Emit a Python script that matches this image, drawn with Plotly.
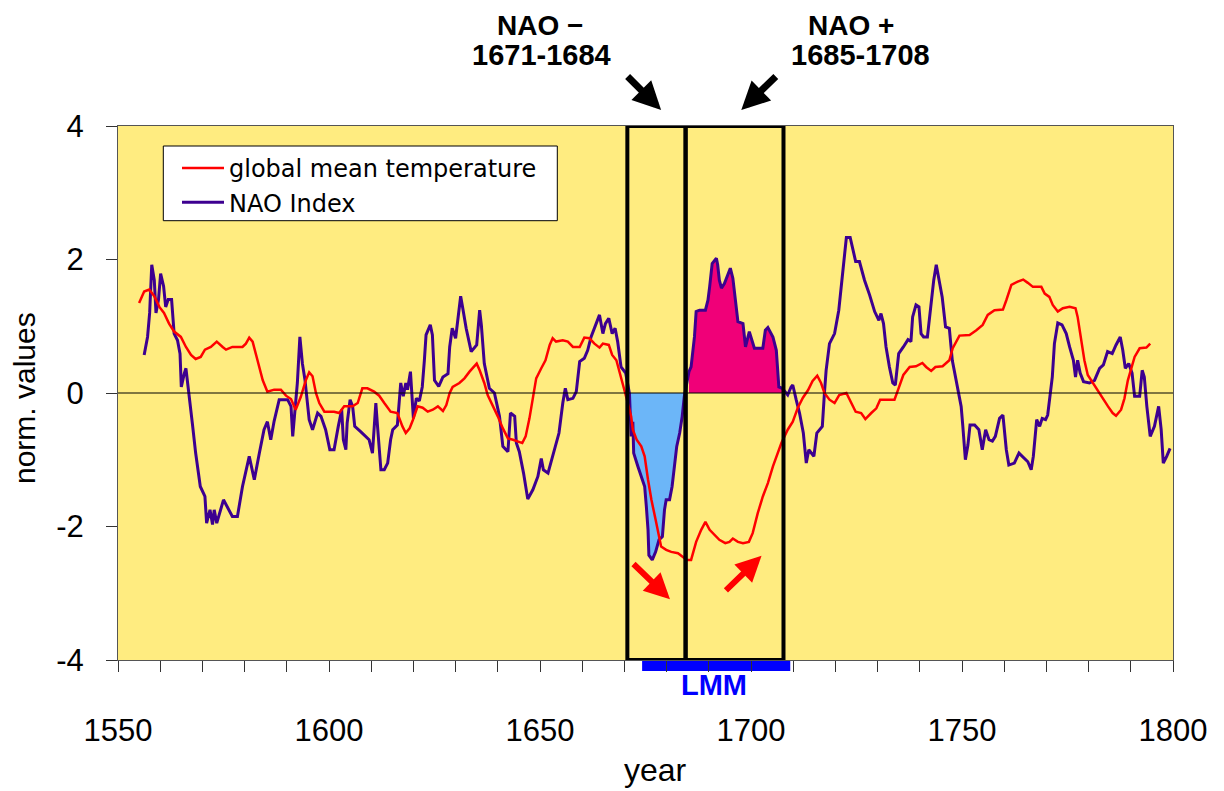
import plotly.graph_objects as go

# ---------------- data ----------------
nao_years = [1556.2, 1557.0, 1557.5, 1558.0, 1558.6, 1559.0, 1559.6, 1560.1, 1560.8, 1561.3, 1561.9, 1562.7,
             1563.3, 1564.1, 1564.7, 1565.0, 1565.7, 1566.1, 1566.5, 1566.9, 1567.7, 1568.4, 1569.5, 1570.6,
             1571.0, 1571.8, 1572.4, 1572.8, 1573.4, 1575.0, 1577.1, 1578.3, 1579.5, 1581.1, 1582.3, 1583.5,
             1584.6, 1585.4, 1586.2, 1587.0, 1588.2, 1590.2, 1591.0, 1591.4, 1592.0, 1592.5, 1593.1, 1593.7,
             1594.3, 1595.3, 1596.1, 1597.3, 1598.1, 1599.2, 1600.2, 1601.2, 1602.2, 1603.0, 1603.4, 1604.0,
             1604.3, 1605.0, 1605.6, 1606.1, 1607.5, 1608.7, 1609.5, 1610.3, 1610.7, 1611.1, 1611.5, 1612.3,
             1613.1, 1613.9, 1614.6, 1615.1, 1616.2, 1616.6, 1617.0, 1617.6, 1618.2, 1618.6, 1619.3, 1620.0,
             1620.7, 1621.4, 1622.1, 1622.6, 1623.0, 1624.0, 1624.5, 1625.0, 1626.0, 1627.0, 1628.2, 1628.6,
             1629.2, 1630.0, 1630.5, 1631.2, 1631.7, 1632.5, 1633.7, 1635.0, 1635.7, 1636.1, 1636.8, 1638.0,
             1639.2, 1640.4, 1641.2, 1642.4, 1643.0, 1644.0, 1644.4, 1645.1, 1646.1, 1647.1, 1648.3, 1649.5,
             1650.3, 1650.8, 1651.9, 1653.0, 1654.5, 1655.4, 1656.0, 1656.6, 1657.8, 1658.6, 1659.4, 1660.5,
             1661.3, 1662.1, 1663.3, 1664.1, 1664.9, 1665.5, 1666.3, 1667.1, 1667.8, 1668.4, 1669.2, 1670.3,
             1671.2, 1671.6, 1672.0, 1672.2, 1673.2, 1674.0, 1674.8, 1675.2, 1675.6, 1675.8, 1676.6, 1677.4,
             1678.2, 1679.0, 1679.5, 1679.9, 1680.7, 1681.3, 1681.9, 1682.4, 1683.1, 1683.7, 1684.2, 1685.3,
             1685.8, 1686.6, 1687.0, 1687.8, 1689.2, 1689.8, 1690.2, 1690.8, 1691.8, 1692.1, 1692.5, 1693.0,
             1693.7, 1694.5, 1695.1, 1695.7, 1696.3, 1696.9, 1698.1, 1698.7, 1699.6, 1700.3, 1700.8, 1702.8,
             1703.4, 1704.0, 1705.2, 1706.0, 1706.6, 1707.4, 1708.7, 1709.5, 1709.9, 1710.7, 1711.5, 1712.4,
             1713.1, 1713.7, 1714.3, 1714.9, 1715.6, 1716.2, 1716.9, 1717.4, 1717.8, 1718.6, 1719.8, 1720.8,
             1721.6, 1722.2, 1722.6, 1723.5, 1724.1, 1724.8, 1725.7, 1726.9, 1728.1, 1729.3, 1730.3, 1730.8,
             1731.4, 1732.0, 1732.8, 1733.6, 1734.2, 1735.0, 1736.1, 1737.2, 1737.9, 1738.3, 1739.1, 1739.8,
             1740.3, 1740.9, 1741.8, 1742.7, 1743.3, 1743.9, 1744.5, 1745.3, 1746.1, 1747.0, 1747.7, 1748.5,
             1749.2, 1749.8, 1750.2, 1750.8, 1751.4, 1751.9, 1753.0, 1754.0, 1754.8, 1755.6, 1756.4, 1757.2,
             1757.9, 1758.9, 1759.7, 1760.5, 1761.1, 1762.4, 1763.5, 1764.4, 1765.6, 1766.4, 1766.9, 1767.7,
             1768.4, 1769.0, 1769.8, 1770.3, 1770.9, 1771.4, 1771.9, 1772.7, 1773.7, 1774.7, 1775.5, 1776.4,
             1776.9, 1777.4, 1778.0, 1778.8, 1780.2, 1781.4, 1782.6, 1783.5, 1784.5, 1785.6, 1786.5, 1787.5,
             1788.1, 1788.7, 1789.5, 1790.3, 1790.9, 1792.1, 1792.7, 1793.2, 1793.8, 1794.6, 1795.6, 1796.6,
             1797.2, 1797.7, 1798.5, 1799.3]
nao_values = [0.57, 0.84, 1.20, 1.92, 1.69, 1.20, 1.40, 1.79, 1.60, 1.29, 1.40, 1.40,
              0.89, 0.79, 0.59, 0.09, 0.29, 0.37, 0.15, -0.10, -0.50, -0.90, -1.40, -1.55,
              -1.95, -1.75, -1.97, -1.75, -1.95, -1.60, -1.85, -1.85, -1.40, -0.95, -1.30, -0.90,
              -0.55, -0.43, -0.70, -0.42, -0.10, -0.10, -0.20, -0.65, -0.20, 0.15, 0.84, 0.44,
              0.20, -0.40, -0.55, -0.30, -0.35, -0.55, -0.85, -0.85, -0.50, -0.25, -0.70, -0.85,
              -0.45, -0.10, -0.20, -0.50, -0.58, -0.65, -0.70, -0.90, -0.50, -0.15, -0.50, -1.15,
              -1.15, -1.05, -0.70, -0.55, -0.48, -0.20, 0.15, -0.05, 0.15, 0.05, 0.32, -0.38,
              -0.08, -0.12, 0.09, 0.49, 0.87, 1.02, 0.87, 0.19, 0.10, 0.24, 0.29, 0.69,
              0.97, 0.82, 1.12, 1.45, 1.27, 0.97, 0.62, 0.72, 1.24, 1.02, 0.44, 0.07,
              0.00, -0.35, -0.80, -0.88, -0.30, -0.35, -0.75, -0.88, -1.20, -1.59, -1.45, -1.25,
              -0.98, -1.15, -1.20, -0.95, -0.60, -0.15, 0.07, -0.10, -0.08, 0.02, 0.47, 0.52,
              0.64, 0.84, 1.04, 1.17, 0.89, 1.04, 1.12, 0.89, 0.97, 0.77, 0.39, 0.30,
              -0.01, -0.65, -0.43, -0.90, -1.10, -1.25, -1.40, -1.70, -2.05, -2.43, -2.50, -2.38,
              -2.20, -2.15, -1.75, -1.60, -1.60, -1.40, -1.10, -0.80, -0.60, -0.35, -0.05, 0.32,
              0.39, 0.84, 1.22, 1.24, 1.24, 1.39, 1.59, 1.94, 2.02, 1.92, 1.69, 1.57,
              1.64, 1.79, 1.87, 1.72, 1.39, 1.07, 1.04, 0.69, 0.92, 0.79, 0.67, 0.67,
              0.94, 0.98, 0.84, 0.64, 0.09, 0.07, -0.03, 0.09, 0.12, -0.10, -0.30, -0.60,
              -1.05, -0.85, -0.90, -0.95, -0.60, -0.55, -0.50, 0.00, 0.34, 0.74, 0.89, 1.24,
              1.69, 2.04, 2.33, 2.33, 2.14, 1.97, 1.97, 1.69, 1.47, 1.22, 1.09, 1.19,
              1.04, 0.69, 0.39, 0.15, 0.12, 0.59, 0.69, 0.80, 0.77, 1.14, 1.32, 1.29,
              0.89, 0.84, 0.84, 1.34, 1.69, 1.92, 1.72, 1.44, 0.99, 0.97, 0.49, 0.24,
              0.04, -0.20, -0.50, -1.00, -0.78, -0.48, -0.48, -0.55, -0.85, -0.55, -0.70, -0.72,
              -0.65, -0.38, -0.33, -0.85, -1.08, -1.05, -0.90, -0.95, -1.03, -1.15, -0.95, -0.40,
              -0.50, -0.38, -0.40, -0.33, -0.05, 0.24, 0.74, 1.05, 1.02, 0.89, 0.69, 0.49,
              0.24, 0.49, 0.30, 0.17, 0.15, 0.19, 0.37, 0.42, 0.62, 0.59, 0.72, 0.84,
              0.64, 0.37, 0.44, 0.30, -0.05, -0.05, 0.34, 0.24, -0.20, -0.65, -0.50, -0.20,
              -0.55, -1.05, -0.95, -0.83]

temp_years = [1555.0, 1556.2, 1557.4, 1558.6, 1559.8, 1560.9, 1562.1, 1563.3, 1564.9, 1566.1, 1567.3, 1568.4,
              1569.6, 1570.6, 1572.0, 1573.4, 1574.8, 1575.6, 1577.1, 1579.5, 1580.3, 1581.1, 1581.9, 1582.7,
              1583.5, 1584.3, 1585.4, 1587.0, 1588.6, 1589.8, 1591.0, 1592.1, 1593.3, 1594.5, 1595.3, 1596.1,
              1596.9, 1597.7, 1598.9, 1601.2, 1602.4, 1603.6, 1605.6, 1606.8, 1607.9, 1609.1, 1610.7, 1611.9,
              1613.1, 1614.6, 1616.2, 1617.4, 1618.2, 1619.1, 1619.9, 1621.0, 1622.2, 1623.4, 1624.6, 1625.8,
              1627.0, 1627.8, 1628.6, 1629.3, 1630.9, 1632.1, 1633.3, 1634.2, 1635.0, 1635.7, 1636.8, 1637.6,
              1638.8, 1640.0, 1641.2, 1642.4, 1643.6, 1644.7, 1645.8, 1646.6, 1647.5, 1648.3, 1649.1, 1650.3,
              1651.3, 1652.3, 1653.0, 1653.8, 1655.4, 1656.6, 1657.8, 1659.4, 1660.5, 1661.7, 1662.9, 1664.1,
              1664.9, 1666.3, 1667.1, 1668.1, 1668.8, 1669.8, 1670.8, 1671.6, 1672.0, 1672.9, 1674.0, 1674.8,
              1675.6, 1676.4, 1677.4, 1678.3, 1678.7, 1679.9, 1681.1, 1682.7, 1683.8, 1684.8, 1685.8, 1687.0,
              1688.2, 1689.2, 1690.2, 1691.4, 1692.5, 1693.9, 1694.9, 1695.7, 1696.9, 1698.1, 1699.5, 1700.4,
              1701.6, 1702.8, 1704.0, 1705.2, 1706.4, 1707.2, 1708.7, 1709.9, 1711.1, 1712.3, 1713.5, 1714.6,
              1715.7, 1716.6, 1717.4, 1718.6, 1719.8, 1720.9, 1722.6, 1723.7, 1724.8, 1726.1, 1727.1, 1728.5,
              1729.7, 1730.6, 1732.0, 1734.0, 1734.8, 1736.1, 1737.6, 1739.1, 1740.6, 1741.5, 1742.7, 1743.7,
              1745.4, 1747.0, 1747.8, 1749.4, 1751.8, 1753.4, 1754.9, 1756.1, 1757.7, 1759.7, 1760.5, 1761.7,
              1763.2, 1764.5, 1765.6, 1766.8, 1768.8, 1769.6, 1770.7, 1771.5, 1772.7, 1773.9, 1775.5, 1776.9,
              1777.4, 1778.2, 1779.0, 1779.8, 1781.0, 1782.2, 1783.4, 1784.6, 1785.7, 1786.5, 1787.7, 1788.5,
              1789.3, 1790.1, 1790.9, 1792.1, 1793.7, 1794.6]
temp_values = [1.35, 1.52, 1.55, 1.45, 1.29, 1.20, 1.04, 0.92, 0.84, 0.69, 0.57, 0.51,
               0.54, 0.65, 0.69, 0.77, 0.69, 0.65, 0.69, 0.69, 0.74, 0.83, 0.77, 0.59,
               0.39, 0.19, 0.02, 0.05, 0.05, -0.04, -0.09, -0.25, -0.06, 0.19, 0.31, 0.25,
               0.00, -0.15, -0.28, -0.28, -0.30, -0.20, -0.20, -0.15, 0.07, 0.07, 0.02, -0.04,
               -0.15, -0.28, -0.30, -0.50, -0.60, -0.53, -0.40, -0.20, -0.22, -0.28, -0.25, -0.20,
               -0.27, -0.18, 0.00, 0.09, 0.15, 0.22, 0.32, 0.39, 0.44, 0.34, 0.15, -0.03,
               -0.18, -0.35, -0.53, -0.68, -0.70, -0.73, -0.75, -0.65, -0.38, -0.08, 0.22, 0.37,
               0.49, 0.72, 0.82, 0.77, 0.79, 0.77, 0.69, 0.69, 0.83, 0.82, 0.74, 0.68,
               0.74, 0.72, 0.57, 0.49, 0.34, 0.09, -0.15, -0.35, -0.55, -0.70, -0.80, -0.95,
               -1.30, -1.60, -1.90, -2.15, -2.30, -2.35, -2.38, -2.40, -2.45, -2.50, -2.50, -2.23,
               -2.05, -1.93, -2.05, -2.13, -2.20, -2.25, -2.23, -2.18, -2.23, -2.25, -2.23, -2.10,
               -1.80, -1.55, -1.35, -1.10, -0.90, -0.75, -0.55, -0.43, -0.22, -0.07, 0.04, 0.18,
               0.26, 0.15, 0.00, -0.10, -0.15, -0.03, 0.00, -0.13, -0.28, -0.30, -0.39, -0.30,
               -0.23, -0.10, -0.10, -0.10, 0.04, 0.27, 0.39, 0.40, 0.45, 0.39, 0.33, 0.39,
               0.40, 0.49, 0.67, 0.86, 0.87, 0.94, 1.02, 1.17, 1.24, 1.25, 1.39, 1.62,
               1.67, 1.70, 1.65, 1.59, 1.59, 1.49, 1.44, 1.32, 1.22, 1.27, 1.29, 1.27,
               1.14, 0.82, 0.49, 0.27, 0.15, 0.02, -0.09, -0.20, -0.30, -0.34, -0.25, -0.08,
               0.19, 0.37, 0.54, 0.67, 0.68, 0.74]

nao_minus_period = (1670.7, 1684.5)   # box "NAO −  1671-1684"
nao_plus_period = (1684.5, 1707.7)    # box "NAO +  1685-1708"
lmm_period = (1674.2, 1709.3)         # Late Maunder Minimum bar

x_tick_labels = ["1550", "1600", "1650", "1700", "1750", "1800"]
y_tick_labels = ["-4", "-2", "0", "2", "4"]

# ---------------- styles ----------------
FONT = "Liberation Sans, Arial, sans-serif"
LEGEND_FONT = "DejaVu Sans, Liberation Sans, sans-serif"
BG = "#FFEC80"
RED = "#FF0000"
PURPLE = "#3D0090"
BLUE_FILL = "#6CB6F8"
PINK_FILL = "#F00078"

# The page body has an 8px margin, so the figure is drawn 8px right/down in the window.
OFF = 8
W, H = 1224, 791
PW, PH = 1055, 534
ML, MT = 118 - OFF, 126 - OFF


def px_x(p):   # window pixel -> paper x
    return (p - OFF - ML) / PW


def px_y(p):   # window pixel -> paper y
    return 1 - (p - OFF - MT) / PH


fig = go.Figure()


def segment(lo, hi):
    xs, ys = [], []
    for x, y in zip(nao_years, nao_values):
        if lo <= x <= hi:
            xs.append(x)
            ys.append(y)
    return xs, ys


bx, by = segment(*nao_minus_period)
px_, py_ = segment(*nao_plus_period)

fig.add_trace(go.Scatter(x=bx, y=by, mode="lines", fill="tozeroy", fillcolor=BLUE_FILL,
                         line=dict(width=0, color=BLUE_FILL), showlegend=False, hoverinfo="skip"))
fig.add_trace(go.Scatter(x=px_, y=py_, mode="lines", fill="tozeroy", fillcolor=PINK_FILL,
                         line=dict(width=0, color=PINK_FILL), showlegend=False, hoverinfo="skip"))

fig.add_trace(go.Scatter(x=nao_years, y=nao_values, mode="lines", name="NAO Index",
                         line=dict(color=PURPLE, width=3), legendrank=2))
fig.add_trace(go.Scatter(x=temp_years, y=temp_values, mode="lines", name="global mean temperature",
                         line=dict(color=RED, width=2.5), legendrank=1))

shapes = []
# zero line
shapes.append(dict(type="line", xref="paper", yref="y", x0=0, x1=1, y0=0, y1=0,
                   line=dict(color="black", width=1), layer="above"))
# period boxes
for lo, hi in (nao_minus_period, nao_plus_period):
    shapes.append(dict(type="rect", xref="x", yref="y", x0=lo, x1=hi, y0=-4, y1=4,
                       line=dict(color="black", width=4), fillcolor="rgba(0,0,0,0)", layer="above"))
# LMM bar below the axis
shapes.append(dict(type="rect", xref="x", yref="paper", x0=lmm_period[0], x1=lmm_period[1],
                   y0=-11 / PH, y1=0, line=dict(width=0), fillcolor="#0000FF", layer="below"))
# legend frame
shapes.append(dict(type="rect", xref="paper", yref="paper",
                   x0=px_x(163.3), x1=px_x(557.3), y0=px_y(220.7), y1=px_y(146),
                   line=dict(color="black", width=1), fillcolor="white", layer="above"))

annotations = []
bold = dict(family=FONT, size=28, color="black")
annotations += [
    dict(text="<b>NAO −</b>", x=1649.9, y=px_y(25), xref="x", yref="paper", showarrow=False, font=bold,
         yanchor="middle"),
    dict(text="<b>1671-1684</b>", x=1650.3, y=px_y(55), xref="x", yref="paper", showarrow=False,
         font=dict(family=FONT, size=29, color="black"), yanchor="middle"),
    dict(text="<b>NAO +</b>", x=1723.8, y=px_y(25), xref="x", yref="paper", showarrow=False, font=bold,
         yanchor="middle"),
    dict(text="<b>1685-1708</b>", x=1726.0, y=px_y(55), xref="x", yref="paper", showarrow=False,
         font=dict(family=FONT, size=29, color="black"), yanchor="middle"),
    dict(text="<b>LMM</b>", x=1691.3, y=px_y(684.7), xref="x", yref="paper", showarrow=False,
         font=dict(family=FONT, size=29, color="#0000FF"), yanchor="middle"),
    dict(text="norm. values", x=px_x(24), y=px_y(398), xref="paper", yref="paper", showarrow=False,
         textangle=-90, font=dict(family=FONT, size=30, color="black"), xanchor="center", yanchor="middle"),
    dict(text="year", x=px_x(655.5), y=px_y(770), xref="paper", yref="paper", showarrow=False,
         font=dict(family=FONT, size=32, color="black"), xanchor="center", yanchor="middle"),
]
# black arrows above the plot (tip in data-x / paper-y, tail offset in pixels)
for x, axp in ((1678.7, -35), (1697.7, 36)):
    annotations.append(dict(x=x, y=px_y(110), xref="x", yref="paper", ax=axp, ay=-35,
                            text="", showarrow=True, arrowhead=2, arrowsize=0.8, arrowwidth=7,
                            arrowcolor="black", standoff=0))
# red arrows inside the plot (tip -> x,y ; tail -> ax, ay)
for x, y, ax, ay in ((1680.8, -3.09, 1671.8, -2.54), (1702.5, -2.44, 1693.7, -2.98)):
    annotations.append(dict(x=x, y=y, ax=ax, ay=ay, xref="x", yref="y", axref="x", ayref="y",
                            text="", showarrow=True, arrowhead=2, arrowsize=0.85, arrowwidth=6,
                            arrowcolor=RED, standoff=0))

fig.update_layout(
    width=W, height=H,
    margin=dict(l=ML, r=W - ML - PW, t=MT, b=H - MT - PH),
    paper_bgcolor="white", plot_bgcolor=BG,
    font=dict(family=FONT, color="black"),
    shapes=shapes, annotations=annotations,
    showlegend=True,
    legend=dict(x=px_x(177), y=px_y(146), xanchor="left", yanchor="top",
                bgcolor="rgba(0,0,0,0)", borderwidth=0,
                font=dict(family=LEGEND_FONT, size=24, color="black"),
                itemwidth=42, traceorder="normal"),
)
fig.update_xaxes(range=[1550, 1800], tickvals=[1550, 1600, 1650, 1700, 1750, 1800], ticktext=x_tick_labels,
                 ticks="outside", ticklen=11, tickcolor="#333", tickwidth=1,
                 minor=dict(dtick=10, tick0=1550, ticks="outside", ticklen=11, tickcolor="#333", tickwidth=1),
                 showgrid=False, zeroline=False, showline=True, mirror=True, linecolor="#555", linewidth=1,
                 tickfont=dict(size=31, family=FONT), ticklabelstandoff=32)
fig.update_yaxes(range=[-4, 4], tickvals=[-4, -2, 0, 2, 4], ticktext=y_tick_labels,
                 ticks="outside", ticklen=11, tickcolor="#333", tickwidth=1,
                 showgrid=False, zeroline=False, showline=True, mirror=True, linecolor="#555", linewidth=1,
                 tickfont=dict(size=31, family=FONT), ticklabelstandoff=16)

fig.write_html("out.html", config={"displayModeBar": False})
